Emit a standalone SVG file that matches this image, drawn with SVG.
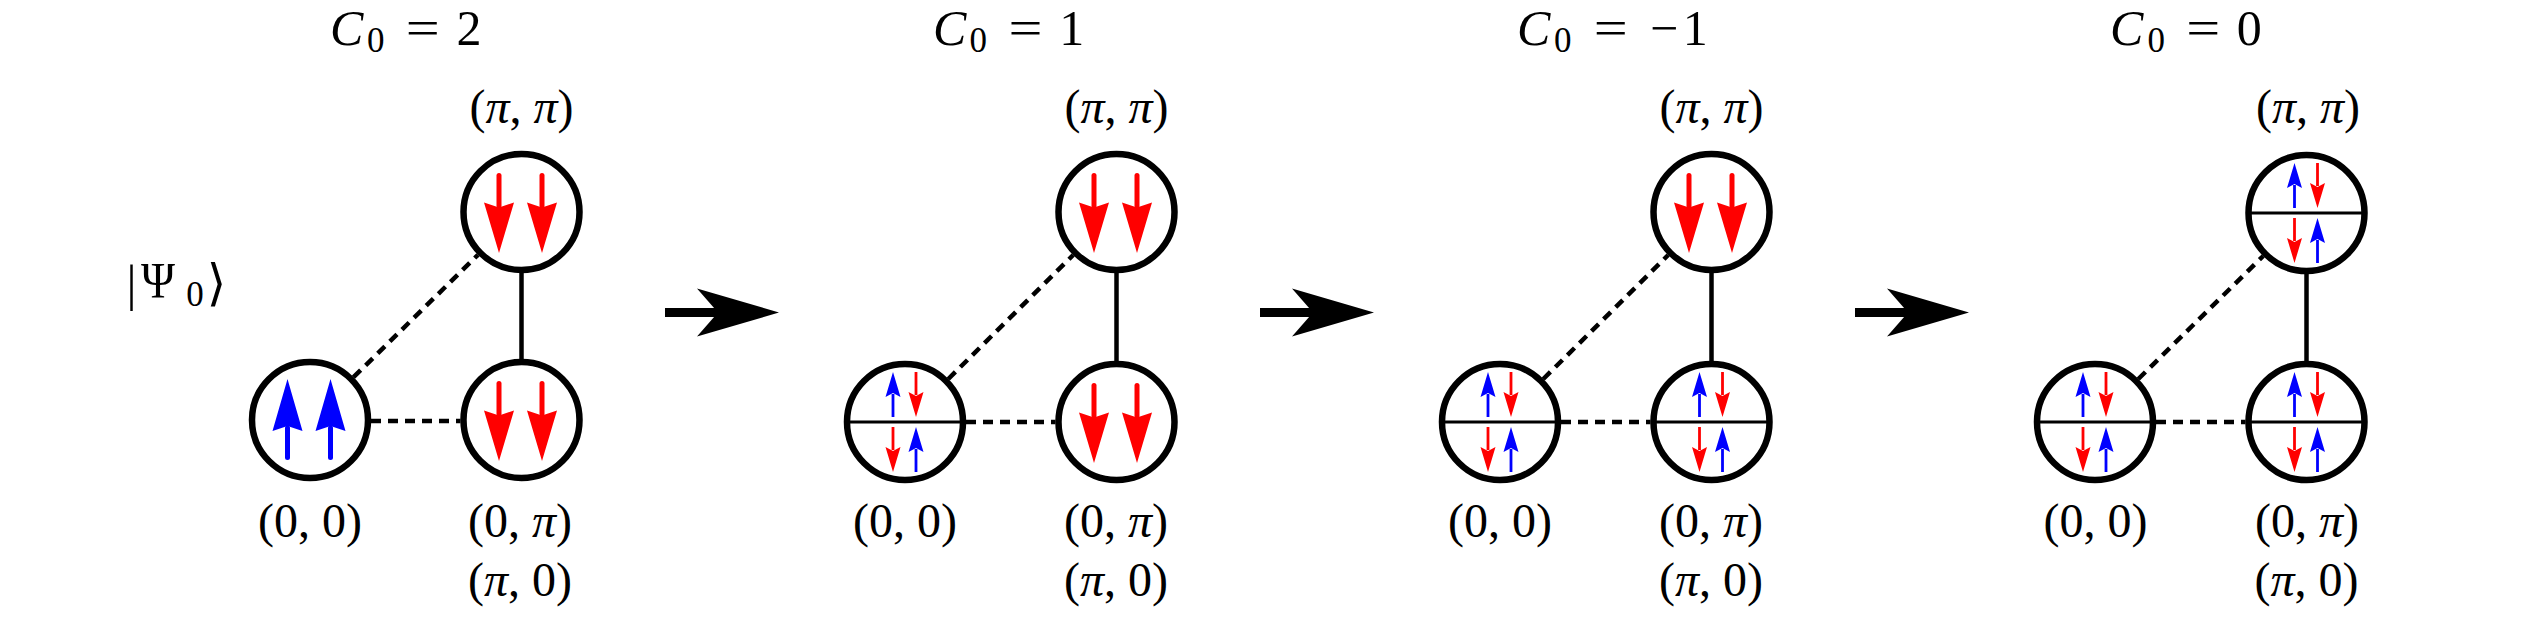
<svg xmlns="http://www.w3.org/2000/svg" xmlns:xlink="http://www.w3.org/1999/xlink" width="2547" height="617" viewBox="0 0 2547 617">
<style>
.ring{fill:#fff;stroke:#000;stroke-width:6.5}
.div{stroke:#000;stroke-width:3}
.dash{stroke:#000;stroke-width:4.5;stroke-dasharray:10 7;fill:none}
.solid{stroke:#000;stroke-width:4.5;fill:none}
.tx{font-family:"Liberation Serif","DejaVu Serif","DejaVu Sans",serif;fill:#000}
.it{font-style:italic}
.t{font-size:50px}
.s{font-size:35px}
.l{font-size:48px}
.m{text-anchor:middle}
</style>
<defs>
<g id="bigUp"><line x1="0" y1="37.5" x2="0" y2="8" stroke="#0000ff" stroke-width="5" stroke-linecap="round"/><polygon points="0,-41 15,11 0,6 -15,11" fill="#0000ff"/></g>
<g id="bigDown"><line x1="0" y1="-36.5" x2="0" y2="-6" stroke="#ff0000" stroke-width="5" stroke-linecap="round"/><polygon points="0,41 15,-9.5 0,-4.5 -15,-9.5" fill="#ff0000"/></g>
<g id="smallUp"><line x1="0" y1="22" x2="0" y2="45" stroke="#0000ff" stroke-width="2.8"/><polygon points="0,0 7.5,25 0,21 -7.5,25" fill="#0000ff"/></g>
<g id="smallDown"><line x1="0" y1="0" x2="0" y2="23" stroke="#ff0000" stroke-width="2.8"/><polygon points="0,45 7.5,20 0,24 -7.5,20" fill="#ff0000"/></g>
<g id="split"><line class="div" x1="-58" y1="0" x2="58" y2="0"/><use xlink:href="#smallUp" x="-12" y="-50"/><use xlink:href="#smallDown" x="11" y="-50"/><use xlink:href="#smallDown" x="-12" y="5"/><use xlink:href="#smallUp" x="11" y="5"/></g>
<g id="bigArrow"><line x1="0" y1="0" x2="56" y2="0" stroke="#000" stroke-width="9"/><polygon points="114,0 32,-24 53,0 32,24" fill="#000"/></g>
</defs>
<rect width="2547" height="617" fill="#fff"/>

<g id="titles" class="tx">
<text class="t it" x="330" y="45">C</text><text class="s" x="367" y="52">0</text><text class="t m" x="422.7" y="45" textLength="34" lengthAdjust="spacingAndGlyphs">=</text><text class="t m" x="469" y="45">2</text>
<text class="t it" x="933" y="45">C</text><text class="s" x="969.5" y="52">0</text><text class="t m" x="1025.4" y="45" textLength="34" lengthAdjust="spacingAndGlyphs">=</text><text class="t m" x="1071.7" y="45">1</text>
<text class="t it" x="1517" y="45">C</text><text class="s" x="1554" y="52">0</text><text class="t m" x="1610.7" y="45" textLength="34" lengthAdjust="spacingAndGlyphs">=</text><text class="t m" x="1664" y="45">−</text><text class="t m" x="1695.3" y="45">1</text>
<text class="t it" x="2110" y="45">C</text><text class="s" x="2147.5" y="52">0</text><text class="t m" x="2203.3" y="45" textLength="34" lengthAdjust="spacingAndGlyphs">=</text><text class="t m" x="2249.2" y="45">0</text>
</g>

<g id="ket" class="tx">
<text class="t m" x="131.5" y="300" font-size="56">|</text><text class="t m" x="158" y="297" textLength="34" lengthAdjust="spacingAndGlyphs">Ψ</text><text class="s m" x="195" y="306">0</text><text class="t m" x="216.5" y="300" font-size="56">⟩</text>
</g>

<g id="connectors">
<line class="dash" x1="353.5" y1="377.2" x2="478" y2="254.8"/><line class="dash" x1="371" y1="421" x2="460.5" y2="421"/><line class="solid" x1="521.5" y1="273" x2="521.5" y2="359"/>
<line class="dash" x1="948.3" y1="379" x2="1073.2" y2="255"/><line class="dash" x1="966" y1="422" x2="1055.5" y2="422"/><line class="solid" x1="1116.5" y1="273" x2="1116.5" y2="361"/>
<line class="dash" x1="1543.3" y1="379" x2="1668.2" y2="255"/><line class="dash" x1="1561" y1="422" x2="1650.5" y2="422"/><line class="solid" x1="1711.5" y1="273" x2="1711.5" y2="361"/>
<line class="dash" x1="2138.3" y1="379" x2="2263.2" y2="256"/><line class="dash" x1="2156" y1="422" x2="2245.5" y2="422"/><line class="solid" x1="2306.5" y1="274" x2="2306.5" y2="361"/>
</g>

<g id="transitions">
<use xlink:href="#bigArrow" x="665" y="312.5"/>
<use xlink:href="#bigArrow" x="1260" y="312.5"/>
<use xlink:href="#bigArrow" x="1855" y="312.5"/>
</g>

<g id="p1-00"><circle class="ring" cx="310" cy="420" r="58"/><use xlink:href="#bigUp" x="287.5" y="420"/><use xlink:href="#bigUp" x="330.5" y="420"/></g>
<g id="p1-pipi"><circle class="ring" cx="521.5" cy="212" r="58"/><use xlink:href="#bigDown" x="499" y="212"/><use xlink:href="#bigDown" x="542" y="212"/></g>
<g id="p1-0pi"><circle class="ring" cx="521.5" cy="420" r="58"/><use xlink:href="#bigDown" x="499" y="420"/><use xlink:href="#bigDown" x="542" y="420"/></g>

<g id="p2-00"><circle class="ring" cx="905" cy="422" r="58"/><use xlink:href="#split" x="905" y="422"/></g>
<g id="p2-pipi"><circle class="ring" cx="1116.5" cy="212" r="58"/><use xlink:href="#bigDown" x="1094" y="212"/><use xlink:href="#bigDown" x="1137" y="212"/></g>
<g id="p2-0pi"><circle class="ring" cx="1116.5" cy="422" r="58"/><use xlink:href="#bigDown" x="1094" y="422"/><use xlink:href="#bigDown" x="1137" y="422"/></g>

<g id="p3-00"><circle class="ring" cx="1500" cy="422" r="58"/><use xlink:href="#split" x="1500" y="422"/></g>
<g id="p3-pipi"><circle class="ring" cx="1711.5" cy="212" r="58"/><use xlink:href="#bigDown" x="1689" y="212"/><use xlink:href="#bigDown" x="1732" y="212"/></g>
<g id="p3-0pi"><circle class="ring" cx="1711.5" cy="422" r="58"/><use xlink:href="#split" x="1711.5" y="422"/></g>

<g id="p4-00"><circle class="ring" cx="2095" cy="422" r="58"/><use xlink:href="#split" x="2095" y="422"/></g>
<g id="p4-pipi"><circle class="ring" cx="2306.5" cy="213" r="58"/><use xlink:href="#split" x="2306.5" y="213"/></g>
<g id="p4-0pi"><circle class="ring" cx="2306.5" cy="422" r="58"/><use xlink:href="#split" x="2306.5" y="422"/></g>

<g id="labels" class="tx l m">
<text x="521.5" y="123">(<tspan class="it">π</tspan>, <tspan class="it">π</tspan>)</text>
<text x="310" y="537">(0, 0)</text>
<text x="520" y="537">(0, <tspan class="it">π</tspan>)</text>
<text x="520" y="596">(<tspan class="it">π</tspan>, 0)</text>
<text x="1116.5" y="123">(<tspan class="it">π</tspan>, <tspan class="it">π</tspan>)</text>
<text x="905" y="537">(0, 0)</text>
<text x="1116" y="537">(0, <tspan class="it">π</tspan>)</text>
<text x="1116" y="596">(<tspan class="it">π</tspan>, 0)</text>
<text x="1711.5" y="123">(<tspan class="it">π</tspan>, <tspan class="it">π</tspan>)</text>
<text x="1500" y="537">(0, 0)</text>
<text x="1711" y="537">(0, <tspan class="it">π</tspan>)</text>
<text x="1711" y="596">(<tspan class="it">π</tspan>, 0)</text>
<text x="2308" y="123">(<tspan class="it">π</tspan>, <tspan class="it">π</tspan>)</text>
<text x="2095.5" y="537">(0, 0)</text>
<text x="2307" y="537">(0, <tspan class="it">π</tspan>)</text>
<text x="2306.5" y="596">(<tspan class="it">π</tspan>, 0)</text>
</g>
</svg>
